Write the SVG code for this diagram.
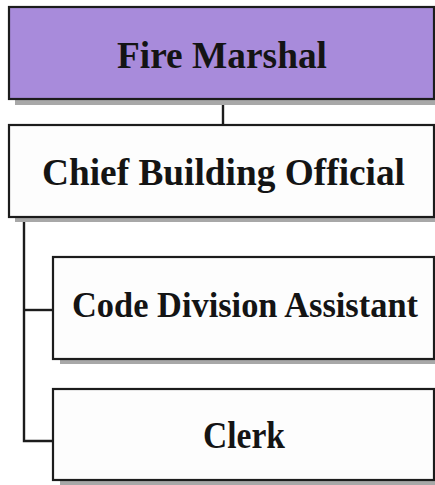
<svg xmlns="http://www.w3.org/2000/svg" width="435" height="485" viewBox="0 0 435 485">
<style>
.box{fill:#fdfdfd;stroke:#1c1c1c;stroke-width:2.2}
.top{fill:#a88bdb}
.shadow{fill:#a8a8a8}
.lbl{font-family:"Liberation Serif","Times New Roman",serif;font-weight:bold;fill:#141414;font-size:37px;text-anchor:middle}
.conn{stroke:#1c1c1c;stroke-width:2.4;fill:none}
</style>
<rect width="435" height="485" fill="#ffffff"/>
<g id="connectors">
<line class="conn" x1="223" y1="100" x2="223" y2="125"/>
<polyline class="conn" points="24,218 24,441 53,441"/>
<line class="conn" x1="24" y1="310" x2="53" y2="310"/>
</g>
<g id="fire-marshal">
<rect class="shadow" x="15" y="99" width="420" height="6"/>
<rect class="box top" x="9" y="7" width="425" height="92"/>
<text class="lbl" x="222" y="68" textLength="210" lengthAdjust="spacingAndGlyphs">Fire Marshal</text>
</g>
<g id="chief-building-official">
<rect class="shadow" x="15" y="217" width="420" height="5"/>
<rect class="box" x="9" y="125" width="425" height="92"/>
<text class="lbl" x="223.5" y="185" textLength="363" lengthAdjust="spacingAndGlyphs">Chief Building Official</text>
</g>
<g id="code-division-assistant">
<rect class="shadow" x="60" y="359" width="375" height="5"/>
<rect class="box" x="53" y="257" width="381" height="102"/>
<text class="lbl" x="245" y="317" style="font-size:35px" textLength="346" lengthAdjust="spacingAndGlyphs">Code Division Assistant</text>
</g>
<g id="clerk">
<rect class="shadow" x="60" y="480" width="375" height="5"/>
<rect class="box" x="53" y="389" width="381" height="91"/>
<text class="lbl" x="244" y="448" textLength="82" lengthAdjust="spacingAndGlyphs">Clerk</text>
</g>
</svg>
